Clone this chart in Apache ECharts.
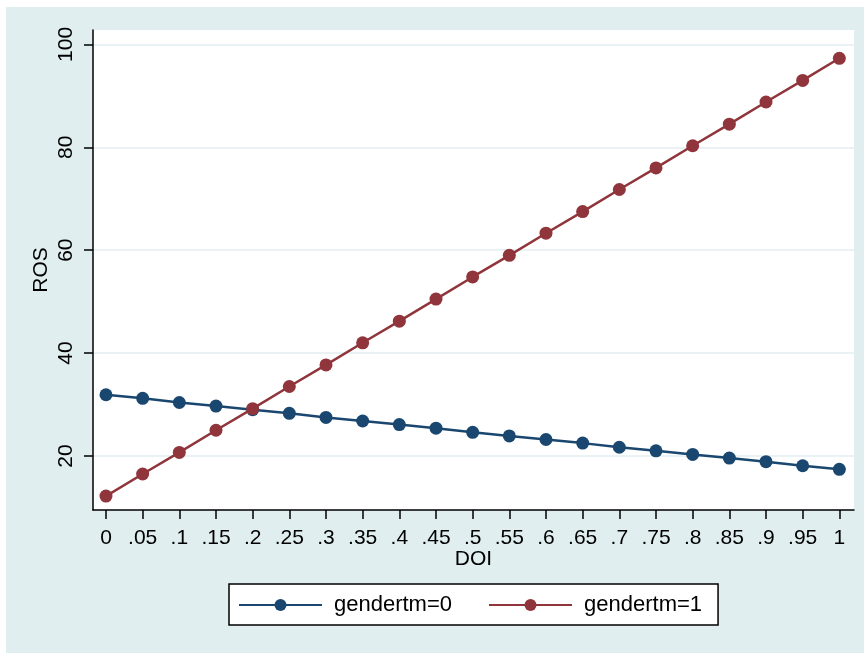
<!DOCTYPE html>
<html>
<head>
<meta charset="utf-8">
<script src="https://cdn.jsdelivr.net/npm/echarts@6/dist/echarts.min.js"></script>
<style>
  html, body { margin: 0; padding: 0; background: #ffffff; }
  #chart { position: absolute; left: 6px; top: 7px; width: 858px; height: 646px; }
</style>
</head>
<body>
<div id="chart"></div>
<script>
// Predicted ROS by DOI, one line per gendertm group
const doi = [0, 0.05, 0.1, 0.15, 0.2, 0.25, 0.3, 0.35, 0.4, 0.45, 0.5,
             0.55, 0.6, 0.65, 0.7, 0.75, 0.8, 0.85, 0.9, 0.95, 1];
const ros0 = [31.9, 31.2, 30.4, 29.7, 29.0, 28.3, 27.5, 26.8, 26.1, 25.4, 24.6,
              23.9, 23.2, 22.5, 21.7, 21.0, 20.3, 19.6, 18.9, 18.1, 17.4];
const ros1 = [12.2, 16.5, 20.7, 25.0, 29.2, 33.5, 37.7, 42.0, 46.2, 50.5, 54.8,
              59.0, 63.3, 67.5, 71.8, 76.0, 80.3, 84.5, 88.8, 93.0, 97.3];
const xTickLabels = ['0', '.05', '.1', '.15', '.2', '.25', '.3', '.35', '.4', '.45', '.5',
                     '.55', '.6', '.65', '.7', '.75', '.8', '.85', '.9', '.95', '1'];
const yTicks = [20, 40, 60, 80, 100];
const seriesNames = ['gendertm=0', 'gendertm=1'];

const FONT = '"Liberation Sans", Arial, Helvetica, sans-serif';
const NAVY = '#1a476f';
const MAROON = '#90353b';

const chart = echarts.init(document.getElementById('chart'), null, { renderer: 'canvas' });

function pairs(ys) { return doi.map((x, i) => [x, ys[i]]); }

chart.setOption({
  animation: false,
  backgroundColor: '#e1eef0',
  textStyle: { fontFamily: FONT, color: '#000' },
  grid: {
    left: 87, right: 10, top: 23, bottom: 143,
    show: true, backgroundColor: '#ffffff', borderWidth: 0
  },
  xAxis: {
    type: 'value',
    min: -0.0177, max: 1.02,
    name: 'DOI', nameLocation: 'middle', nameGap: 39, nameMoveOverlap: false,
    nameTextStyle: { fontSize: 21, fontFamily: FONT, color: '#000' },
    axisLine: { show: true, onZero: false, lineStyle: { color: '#000', width: 1.5 } },
    axisTick: { show: true, length: 9, customValues: doi, lineStyle: { color: '#000', width: 1.5 } },
    axisLabel: {
      customValues: doi, margin: 18, fontSize: 21, fontFamily: FONT, color: '#000',
      formatter: v => xTickLabels[Math.round(v / 0.05)]
    },
    splitLine: { show: false }
  },
  yAxis: {
    type: 'value',
    min: 9.5, max: 102.8,
    name: 'ROS', nameLocation: 'middle', nameGap: 41, nameMoveOverlap: false,
    nameTextStyle: { fontSize: 21, fontFamily: FONT, color: '#000' },
    axisLine: { show: true, onZero: false, lineStyle: { color: '#000', width: 1.5 } },
    axisTick: { show: true, length: 9, customValues: yTicks, lineStyle: { color: '#000', width: 1.5 } },
    axisLabel: {
      customValues: yTicks, rotate: 90, margin: 16, fontSize: 21, fontFamily: FONT, color: '#000'
    },
    splitLine: { show: true, lineStyle: { color: '#e3eef2', width: 1.5 } }
  },
  legend: {
    data: seriesNames,
    left: 223, top: 577,
    padding: [10, 16, 9, 9],
    itemWidth: 83, itemHeight: 15, itemGap: 36,
    backgroundColor: '#ffffff',
    borderColor: '#000', borderWidth: 1.5, borderRadius: 0,
    textStyle: { fontSize: 22, fontFamily: FONT, color: '#000', padding: [0, 0, 0, 7] }
  },
  series: [
    {
      name: seriesNames[0], type: 'line', data: pairs(ros0),
      symbol: 'circle', symbolSize: 13,
      itemStyle: { color: NAVY },
      lineStyle: { color: NAVY, width: 2.5 },
      emphasis: { disabled: true }, z: 2
    },
    {
      name: seriesNames[1], type: 'line', data: pairs(ros1),
      symbol: 'circle', symbolSize: 13,
      itemStyle: { color: MAROON },
      lineStyle: { color: MAROON, width: 2.5 },
      emphasis: { disabled: true }, z: 3
    }
  ]
});
</script>
</body>
</html>
